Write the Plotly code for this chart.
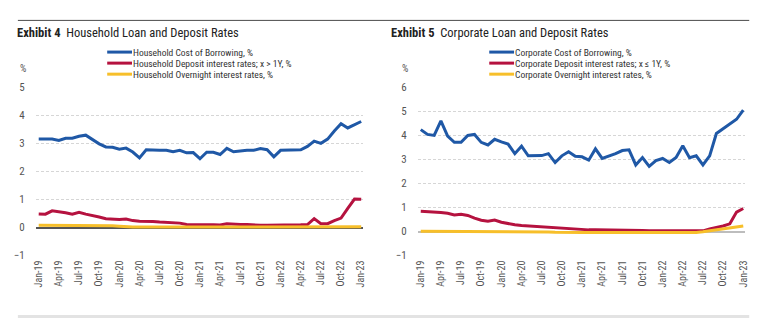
import plotly.graph_objects as go

# ---- data: monthly, Jan-2019 .. Jan-2023 ----
months = [f"{m}-{y}" for y in ("19", "20", "21", "22") for m in
          ("Jan", "Feb", "Mar", "Apr", "May", "Jun", "Jul", "Aug", "Sep", "Oct", "Nov", "Dec")] + ["Jan-23"]

hh_borrow = [3.16, 3.15, 3.16, 3.11, 3.19, 3.19, 3.26, 3.30, 3.13, 2.99, 2.88, 2.87,
             2.80, 2.84, 2.70, 2.49, 2.78, 2.76, 2.76, 2.76, 2.71, 2.76, 2.67, 2.68,
             2.46, 2.69, 2.69, 2.61, 2.83, 2.71, 2.74, 2.76, 2.76, 2.82, 2.78, 2.53,
             2.76, 2.76, 2.77, 2.78, 2.90, 3.09, 3.01, 3.16, 3.45, 3.71, 3.56, 3.68, 3.79]
hh_deposit = [0.49, 0.48, 0.60, 0.57, 0.53, 0.48, 0.55, 0.48, 0.44, 0.38, 0.32, 0.30,
              0.29, 0.31, 0.25, 0.23, 0.23, 0.22, 0.20, 0.19, 0.17, 0.16, 0.11, 0.10,
              0.11, 0.10, 0.10, 0.09, 0.14, 0.12, 0.11, 0.11, 0.09, 0.08, 0.08, 0.08,
              0.09, 0.09, 0.10, 0.10, 0.11, 0.32, 0.14, 0.14, 0.25, 0.34, 0.69, 1.02, 1.01]
hh_overnight = [0.08, 0.08, 0.08, 0.08, 0.08, 0.08, 0.08, 0.08, 0.08, 0.08, 0.08, 0.07,
                0.05, 0.03, 0.02, 0.02, 0.02, 0.02, 0.02, 0.02, 0.02, 0.02, 0.02, 0.02,
                0.02, 0.02, 0.02, 0.02, 0.02, 0.02, 0.02, 0.02, 0.02, 0.02, 0.02, 0.02,
                0.02, 0.02, 0.02, 0.02, 0.02, 0.02, 0.02, 0.02, 0.02, 0.03, 0.03, 0.03, 0.03]

corp_borrow = [4.24, 4.04, 4.00, 4.60, 3.97, 3.71, 3.71, 4.00, 4.04, 3.71, 3.60, 3.84,
               3.73, 3.64, 3.24, 3.55, 3.15, 3.15, 3.16, 3.24, 2.87, 3.15, 3.32, 3.13,
               3.11, 2.97, 3.44, 3.04, 3.13, 3.24, 3.37, 3.40, 2.77, 3.08, 2.71, 2.95,
               3.04, 2.87, 3.08, 3.57, 3.07, 3.15, 2.77, 3.15, 4.08, 4.28, 4.47, 4.67, 5.05]
corp_deposit = [0.84, 0.83, 0.83, 0.79, 0.76, 0.69, 0.72, 0.67, 0.56, 0.47, 0.43, 0.48,
                0.39, 0.33, 0.28, 0.25, 0.23, 0.23, 0.20, 0.19, 0.15, 0.12, 0.11, 0.09,
                0.09, 0.07, 0.07, 0.07, 0.05, 0.05, 0.04, 0.05, 0.04, 0.04, 0.03, 0.03,
                0.03, 0.03, 0.03, 0.03, 0.03, 0.03, 0.03, 0.11, 0.16, 0.23, 0.32, 0.81, 0.96]
corp_overnight = [0.01, 0.01, 0.01, 0.01, 0.01, 0.01, 0.01, 0.01, 0.01, 0.01, 0.01, 0.01,
                  0.01, 0.01, 0.00, 0.00, 0.00, -0.01, -0.01, -0.02, -0.03, -0.04, -0.04, -0.04,
                  -0.04, -0.04, -0.04, -0.05, -0.05, -0.05, -0.05, -0.05, -0.06, -0.06, -0.06, -0.06,
                  -0.07, -0.07, -0.07, -0.07, -0.06, -0.04, -0.01, 0.03, 0.05, 0.10, 0.16, 0.20, 0.23]

hh_names = ["Household Cost of Borrowing, %",
            "Household Deposit interest rates; x > 1Y, %",
            "Household Overnight interest rates, %"]
corp_names = ["Corporate Cost of Borrowing, %",
              "Corporate Deposit interest rates; x \u2264 1Y, %",
              "Corporate Overnight interest rates, %"]

tick_idx = list(range(0, len(months), 3))
tick_text = [months[i] for i in tick_idx]

BLUE, RED, YELLOW = "#1f58a6", "#b5123f", "#f7bf2a"
colors = [BLUE, RED, YELLOW]
FONT = "Noto Sans Condensed, Roboto Condensed, Liberation Sans Narrow, DejaVu Sans Condensed, sans-serif"
W, H = 783, 325


def px(x):
    return x / W


def py(y):
    return 1 - y / H


x = list(range(len(months)))
fig = go.Figure()

for series, name, c in zip((hh_borrow, hh_deposit, hh_overnight), hh_names, colors):
    fig.add_trace(go.Scatter(x=x, y=series, name=name, mode="lines",
                             line=dict(color=c, width=3), xaxis="x", yaxis="y",
                             showlegend=False))
for series, name, c in zip((corp_borrow, corp_deposit, corp_overnight), corp_names, colors):
    fig.add_trace(go.Scatter(x=x, y=series, name=name, mode="lines",
                             line=dict(color=c, width=3), xaxis="x2", yaxis="y2",
                             showlegend=False))

xcommon = dict(tickmode="array", tickvals=tick_idx, ticktext=tick_text, tickangle=-90,
               range=[-0.44, 48.3], showgrid=False, zeroline=False, showline=False,
               ticks="", ticklabelstandoff=2,
               tickfont=dict(family=FONT, size=10, color="#555555"))
ycommon = dict(showgrid=True, gridcolor="#d6d6d6", griddash="3px,2px", gridwidth=1,
               showline=False, ticks="", dtick=1, ticklabelstandoff=10,
               tickfont=dict(family=FONT, size=11, color="#555555"))

fig.update_layout(
    width=W, height=H, autosize=False,
    margin=dict(l=0, r=0, t=0, b=0),
    paper_bgcolor="white", plot_bgcolor="white",
    font=dict(family=FONT, color="#333333"),
    xaxis=dict(domain=[px(33), px(363)], anchor="y", **xcommon),
    yaxis=dict(domain=[py(260), py(85)], range=[-1, 5], anchor="x",
               zeroline=True, zerolinecolor="#555555", zerolinewidth=1.5, **ycommon),
    xaxis2=dict(domain=[px(418), px(748)], anchor="y2", **xcommon),
    yaxis2=dict(domain=[py(260), py(84.7)], range=[-1, 6], anchor="x2",
                zeroline=True, zerolinecolor="#bdbdbd", zerolinewidth=2, **ycommon),
)

shapes = [
    dict(type="line", xref="paper", yref="paper", x0=px(15), x1=px(752), y0=py(15), y1=py(15),
         line=dict(color="#4a4a4a", width=1)),
    dict(type="rect", xref="paper", yref="paper", x0=px(15), x1=px(752), y0=py(325), y1=py(322),
         fillcolor="#e3e3e3", line=dict(width=0)),
]
annotations = []

# chart titles and unit labels
for x0, num, title in ((12, "4", "Household Loan and Deposit Rates"),
                       (389, "5", "Corporate Loan and Deposit Rates")):
    annotations.append(dict(text=f"<b>Exhibit {num}</b>  {title}", xref="paper", yref="paper",
                            x=px(x0), y=py(28), xanchor="left", yanchor="middle",
                            showarrow=False, font=dict(family=FONT, size=12.5, color="#222222")))
for x0 in (20, 405):
    annotations.append(dict(text="%", xref="paper", yref="paper", x=px(x0), y=py(65),
                            xanchor="center", yanchor="middle", showarrow=False,
                            font=dict(family=FONT, size=10, color="#555555")))

# series keys
for lx, names in ((105, hh_names), (490, corp_names)):
    for k, (name, c) in enumerate(zip(names, colors)):
        yy = 48 + k * 11.5
        shapes.append(dict(type="line", xref="paper", yref="paper", x0=px(lx), x1=px(lx + 25),
                           y0=py(yy), y1=py(yy), line=dict(color=c, width=3)))
        annotations.append(dict(text=name, xref="paper", yref="paper", x=px(lx + 24), y=py(yy),
                                xanchor="left", yanchor="middle", showarrow=False,
                                font=dict(family=FONT, size=9.5, color="#333333")))

fig.update_layout(shapes=shapes, annotations=annotations)
fig.write_html("out.html")
